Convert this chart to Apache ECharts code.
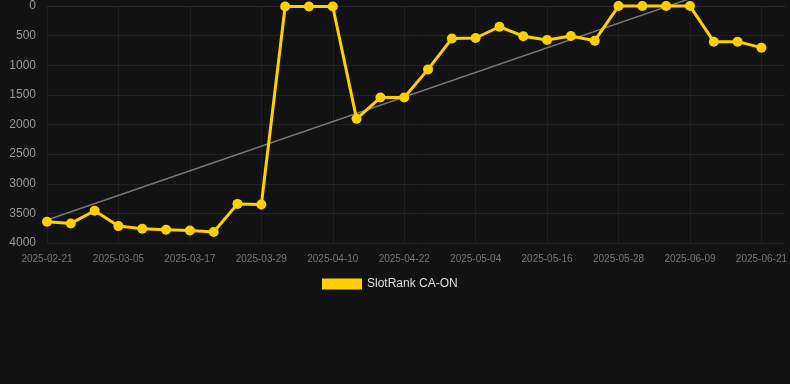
<!DOCTYPE html>
<html>
<head>
<meta charset="utf-8">
<script src="https://cdn.jsdelivr.net/npm/echarts@6/dist/echarts.min.js"></script>
<style>
html,body{margin:0;padding:0;background:#121212;}
#c{width:790px;height:384px;}
</style>
</head>
<body>
<div id="c"></div>
<script>
const categories = [
  "2025-02-21","2025-02-25","2025-03-01","2025-03-05","2025-03-09","2025-03-13","2025-03-17","2025-03-21",
  "2025-03-25","2025-03-29","2025-04-02","2025-04-06","2025-04-10","2025-04-14","2025-04-18","2025-04-22",
  "2025-04-26","2025-04-30","2025-05-04","2025-05-08","2025-05-12","2025-05-16","2025-05-20","2025-05-24",
  "2025-05-28","2025-06-01","2025-06-05","2025-06-09","2025-06-13","2025-06-17","2025-06-21","2025-06-25"
];
const rankValues = [
  3640, 3670, 3455, 3715, 3760, 3775, 3790, 3815,
  3340, 3350, 8, 8, 8, 1905, 1545, 1545,
  1070, 550, 540, 350, 510, 574, 506, 585,
  1, 1, 1, 1, 602, 602, 703, null
];
const trendStart = 3612;
const trendEnd = -540;
const trendIdx = [0, 30];
const yTicks = { min: 0, max: 4000, interval: 500 };
const seriesName = "SlotRank CA-ON";

const chart = echarts.init(document.getElementById('c'), null, { renderer: 'canvas' });
chart.setOption({
  backgroundColor: '#121212',
  animation: false,
  grid: { left: 47, right: 4, top: 6, bottom: 141 },
  legend: {
    data: [{ name: seriesName, icon: 'rect' }],
    left: 317,
    top: 273,
    itemWidth: 40,
    itemHeight: 11,
    itemGap: 10,
    itemStyle: { color: '#FFD000' },
    lineStyle: { width: 0 },
    textStyle: { color: '#dddddd', fontSize: 12, fontFamily: 'Liberation Sans, Arial, sans-serif' }
  },
  xAxis: {
    type: 'category',
    data: categories,
    boundaryGap: false,
    axisLine: { show: true, lineStyle: { color: '#2a2a2a' } },
    axisTick: { show: false },
    axisLabel: { interval: 2, color: '#777777', fontSize: 10, margin: 11, fontFamily: 'Liberation Sans, Arial, sans-serif' },
    splitLine: { show: true, interval: 2, lineStyle: { color: '#1f1f1f' } }
  },
  yAxis: {
    type: 'value',
    inverse: true,
    min: yTicks.min,
    max: yTicks.max,
    interval: yTicks.interval,
    axisLine: { show: false },
    axisTick: { show: false },
    axisLabel: {
      color: '#999999', fontSize: 12, margin: 11,
      fontFamily: 'Liberation Sans, Arial, sans-serif',
      formatter: function (v) { return String(v); }
    },
    splitLine: { show: true, lineStyle: { color: '#222222' } }
  },
  series: [
    {
      name: 'trend',
      type: 'line',
      data: [[categories[trendIdx[0]], trendStart], [categories[trendIdx[1]], trendEnd]],
      showSymbol: false,
      symbol: 'none',
      clip: false,
      lineStyle: { color: '#777777', width: 1.5 },
      silent: true,
      z: 1
    },
    {
      name: seriesName,
      type: 'line',
      data: rankValues,
      symbol: 'circle',
      symbolSize: 10,
      showSymbol: true,
      clip: false,
      itemStyle: { color: '#FFD000' },
      lineStyle: { color: '#FFD000', width: 3 },
      z: 3
    }
  ]
});
</script>
</body>
</html>
